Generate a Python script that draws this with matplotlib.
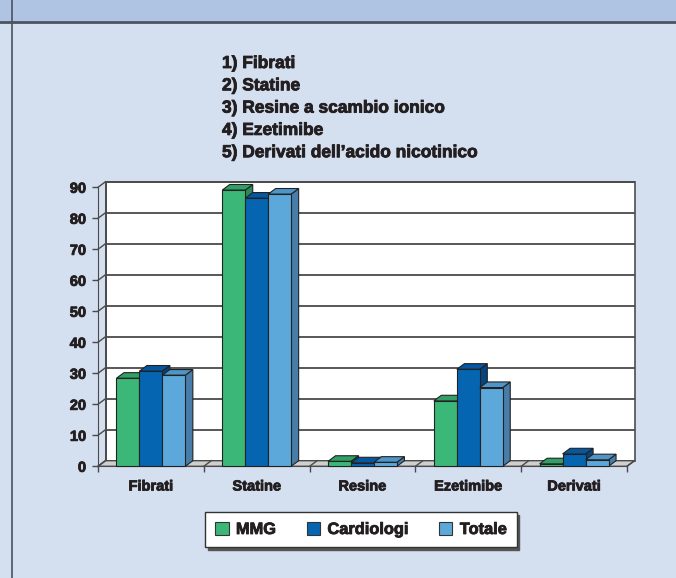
import matplotlib
matplotlib.use("Agg")
import matplotlib.pyplot as plt
import matplotlib.patheffects as pe
from matplotlib.patches import Rectangle, Polygon, Patch
from matplotlib.lines import Line2D

# data
categories = ["Fibrati", "Statine", "Resine", "Ezetimibe", "Derivati"]
series_names = ["MMG", "Cardiologi", "Totale"]
mmg = [28.4, 89.1, 1.6, 21.1, 0.8]
cardiologi = [30.7, 86.5, 1.1, 31.3, 4.0]
totale = [29.4, 87.8, 1.3, 25.4, 2.1]
yticks = [0, 10, 20, 30, 40, 50, 60, 70, 80, 90]
notes = ["1) Fibrati", "2) Statine", "3) Resine a scambio ionico",
         "4) Ezetimibe", "5) Derivati dell\u2019acido nicotinico"]

front_cols = ["#3BB877", "#0565B0", "#5CA8DA"]
top_cols = ["#30A066", "#0457A0", "#4E96C9"]
side_cols = ["#2B8A58", "#034680", "#477DA8"]

plt.rcParams['font.family'] = ['Liberation Sans', 'DejaVu Sans']
txt = "#231F20"
bg = "#D4DFF0"
W, H = 676, 578
heavy = [pe.withStroke(linewidth=0.6, foreground=txt)]

fig = plt.figure(figsize=(W / 100, H / 100), dpi=100)
fig.patch.set_facecolor(bg)

# header band and frame line
fig.add_artist(Rectangle((0, 1 - 21 / H), 1, 21 / H, transform=fig.transFigure,
                         facecolor="#AFC4E3", edgecolor="none"))
fig.add_artist(Line2D([0, 1], [1 - 21.5 / H] * 2, transform=fig.transFigure,
                      color="#4B5262", lw=2))
fig.add_artist(Line2D([11.5 / W] * 2, [0, 1], transform=fig.transFigure,
                      color="#4B5262", lw=1.2))

for k, s in enumerate(notes):
    fig.text(222 / W, 1 - (68 + k * 22.3) / H, s, fontsize=12.5, fontweight="bold",
             color=txt, va="baseline", ha="left", path_effects=heavy)

# axes: front plane of the 3D chart
x0, x1, y0, y1 = 98, 627, 466.3, 187.3
ax = fig.add_axes([x0 / W, 1 - y0 / H, (x1 - x0) / W, (y0 - y1) / H])
ax.set_xlim(0, 5)
ax.set_ylim(0, 90)
ax.patch.set_visible(False)

px_x = (x1 - x0) / 5
px_y = (y0 - y1) / 90
ddx = 7.5 / px_x
ddy = 5.6 / px_y

grey = "#4A4A4A"
# back wall
ax.add_patch(Rectangle((ddx, ddy), 5, 90, facecolor="white", edgecolor="#5A5A5A",
                       lw=1.3, zorder=1, clip_on=False))
for v in yticks:
    ax.plot([ddx, 5 + ddx], [v + ddy, v + ddy], color=grey, lw=1.3, zorder=1.5,
            clip_on=False, solid_capstyle="butt")
    ax.plot([0, ddx], [v, v + ddy], color=grey, lw=1, zorder=1.5, clip_on=False)
ax.plot([ddx, ddx], [ddy, 90 + ddy], color=grey, lw=1.3, zorder=1.5, clip_on=False)

# floor
ax.add_patch(Polygon([(0, 0), (5, 0), (5 + ddx, ddy), (ddx, ddy)], closed=True,
                     facecolor="#CFCFCF", edgecolor=grey, lw=1, zorder=2, clip_on=False))
for i in range(6):
    ax.plot([i, i + ddx], [0, ddy], color=grey, lw=1, zorder=2.5, clip_on=False)

# bars
w = 0.217
vals = [mmg, cardiologi, totale]
for j, sv in enumerate(vals):
    centers = [i + 0.5 + (j - 1) * w for i in range(len(categories))]
    bars = ax.bar(centers, sv, width=w, color=front_cols[j], edgecolor="#222222",
                  lw=0.8, label=series_names[j])
    for i, (b, v) in enumerate(zip(bars, sv)):
        z = 3 + i + j * 0.1
        left = b.get_x()
        right = left + w
        top = Polygon([(left, v), (right, v), (right + ddx, v + ddy), (left + ddx, v + ddy)],
                      closed=True, facecolor=top_cols[j], edgecolor="#222222", lw=0.8,
                      zorder=z, clip_on=False)
        side = Polygon([(right, 0), (right + ddx, ddy), (right + ddx, v + ddy), (right, v)],
                       closed=True, facecolor=side_cols[j], edgecolor="#222222", lw=0.8,
                       zorder=z, clip_on=False)
        ax.add_patch(side)
        ax.add_patch(top)
        b.set_zorder(z + 0.01)
        b.set_clip_on(False)

# axes styling
for sp in ["top", "right"]:
    ax.spines[sp].set_visible(False)
ax.spines["left"].set_color(grey)
ax.spines["bottom"].set_color(grey)
ax.spines["left"].set_zorder(2.6)
ax.spines["bottom"].set_zorder(2.6)
ax.set_yticks(yticks)
ax.tick_params(axis="y", direction="out", length=4.5, width=1, color=grey, pad=4,
               labelsize=10.5, labelcolor=txt)
for t in ax.get_yticklabels():
    t.set_fontweight("bold")
    t.set_path_effects(heavy)
ax.set_xticks(range(6))
ax.set_xticklabels([])
ax.set_xticks([i + 0.5 for i in range(5)], minor=True)
ax.set_xticklabels(categories, minor=True, fontsize=10.5, fontweight="bold", color=txt)
for t in ax.get_xticklabels(minor=True):
    t.set_path_effects(heavy)
ax.tick_params(axis="x", which="major", direction="out", length=4.5, width=1, color=grey)
ax.tick_params(axis="x", which="minor", length=0, pad=9.5)

# legend
handles = [Patch(facecolor=c, edgecolor="#333333", lw=0.8) for c in front_cols]
leg = fig.legend(handles, series_names, loc="center", bbox_to_anchor=(361 / W, 1 - 529.5 / H),
                 ncol=3, frameon=True, fancybox=False, shadow={"color": "#555555", "alpha": 1},
                 handlelength=0.8, handleheight=0.8, handletextpad=0.45, columnspacing=1.9,
                 borderpad=0.62, prop={"size": 11.8, "weight": "bold"})
leg.get_frame().set_edgecolor("#333333")
leg.get_frame().set_linewidth(1)
leg.get_frame().set_facecolor("white")
for t in leg.get_texts():
    t.set_color(txt)
    t.set_path_effects(heavy)

fig.savefig("out.png", dpi=100, facecolor=bg)
